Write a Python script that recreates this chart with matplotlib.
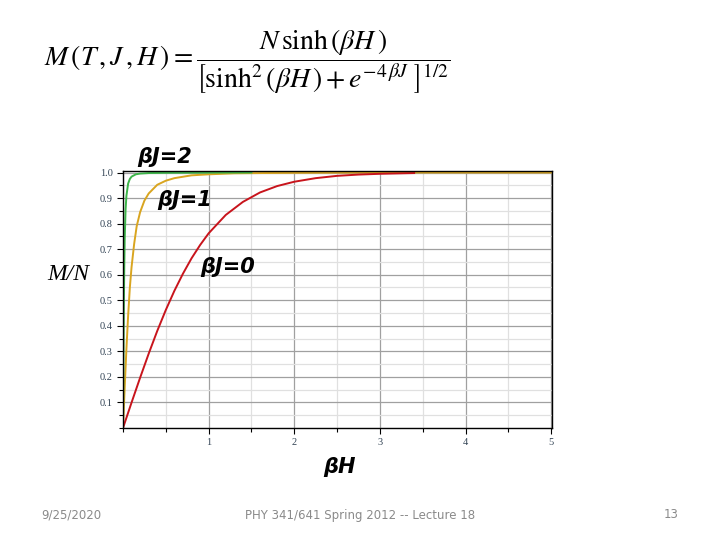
import matplotlib
matplotlib.use("Agg")
import matplotlib.pyplot as plt
from matplotlib.ticker import MultipleLocator

plt.rcParams['mathtext.fontset'] = 'stix'

# curves (M/N against beta*H)
x_j0 = [0, 0.1, 0.2, 0.3, 0.4, 0.5, 0.6, 0.7, 0.8, 0.9, 1.0, 1.2, 1.4, 1.6, 1.8,
        2.0, 2.25, 2.5, 2.75, 3.0, 3.4]
m_j0 = [0, 0.0997, 0.197, 0.291, 0.380, 0.462, 0.537, 0.604, 0.664, 0.716, 0.762,
        0.834, 0.885, 0.922, 0.947, 0.964, 0.978, 0.987, 0.992, 0.995, 0.998]

x_j1 = [0, 0.02, 0.04, 0.06, 0.08, 0.1, 0.13, 0.16, 0.2, 0.25, 0.3, 0.4, 0.5, 0.6,
        0.8, 1.0, 1.3, 1.6, 2.0, 3.0, 5.0]
m_j1 = [0, 0.16, 0.31, 0.44, 0.55, 0.63, 0.72, 0.79, 0.845, 0.89, 0.918,
        0.952, 0.968, 0.978, 0.989, 0.993, 0.997, 0.998, 0.999, 1.0, 1.0]

x_j2 = [0, 0.005, 0.01, 0.015, 0.02, 0.03, 0.04, 0.06, 0.08, 0.1, 0.15, 0.2, 0.3,
        0.5, 1.5]
m_j2 = [0, 0.264, 0.479, 0.634, 0.738, 0.854, 0.909, 0.957, 0.975, 0.984, 0.993,
        0.996, 0.998, 0.999, 1.0]

fig = plt.figure(figsize=(7.2, 5.4), dpi=100)
ax = fig.add_axes([123/720, 1-428/540, 429/720, 257/540])

ax.plot(x_j1, m_j1, color='#d9a520', lw=1.4)
ax.plot(x_j2, m_j2, color='#3db54a', lw=1.4)
ax.plot(x_j0, m_j0, color='#c8141c', lw=1.4)

ax.set_xlim(0, 5.01)
ax.set_ylim(0, 1.006)
ax.xaxis.set_major_locator(MultipleLocator(1))
ax.xaxis.set_minor_locator(MultipleLocator(0.5))
ax.yaxis.set_major_locator(MultipleLocator(0.1))
ax.yaxis.set_minor_locator(MultipleLocator(0.05))
ax.set_xticks([1, 2, 3, 4, 5])
ax.set_yticks([0.1, 0.2, 0.3, 0.4, 0.5, 0.6, 0.7, 0.8, 0.9, 1.0])
ax.set_yticklabels(['0.1', '0.2', '0.3', '0.4', '0.5', '0.6', '0.7', '0.8', '0.9', '1.0'])
ax.grid(which='major', color='#a0a0a0', lw=0.9)
ax.grid(which='minor', color='#e0e0e0', lw=0.9)
ax.set_axisbelow(True)
ax.tick_params(which='both', direction='out', labelsize=7.5, labelcolor='#334455',
               width=0.8)
ax.tick_params(which='major', length=4)
ax.tick_params(which='minor', length=3)
for t in ax.get_xticklabels() + ax.get_yticklabels():
    t.set_family('Liberation Serif')
for s in ax.spines.values():
    s.set_linewidth(1.0)
    s.set_color('black')

# equation on top of the slide
fig.text(247/720, 1-62/540,
         r'$M\,(T\,,J\,,H\,) = \dfrac{N\,\sinh\left(\beta H\,\right)}'
         r'{\left[\sinh^2\left(\beta H\,\right) + e^{-4\,\beta J}\;\right]^{1/2}}$',
         ha='center', va='center', fontsize=20)

lab = dict(fontsize=15, fontweight='bold', style='italic', family='DejaVu Sans',
           va='center', ha='left')
fig.text(137/720, 1-157/540, 'βJ=2', **lab)
fig.text(157/720, 1-200/540, 'βJ=1', **lab)
fig.text(200/720, 1-267/540, 'βJ=0', **lab)
fig.text(323/720, 1-467/540, 'βH', **lab)
fig.text(68/720, 1-275/540, 'M/N', fontsize=17, style='italic',
         family='Liberation Serif', ha='center', va='center')

foot = dict(fontsize=8.5, color='#8a8a8a', family=['Liberation Sans Narrow', 'DejaVu Sans'],
            va='center')
fig.text(71/720, 1-515/540, '9/25/2020', ha='center', **foot)
fig.text(360/720, 1-515/540, 'PHY 341/641 Spring 2012 -- Lecture 18', ha='center', **foot)
fig.text(671/720, 1-515/540, '13', ha='center', **foot)

fig.savefig('out.png', dpi=100)
